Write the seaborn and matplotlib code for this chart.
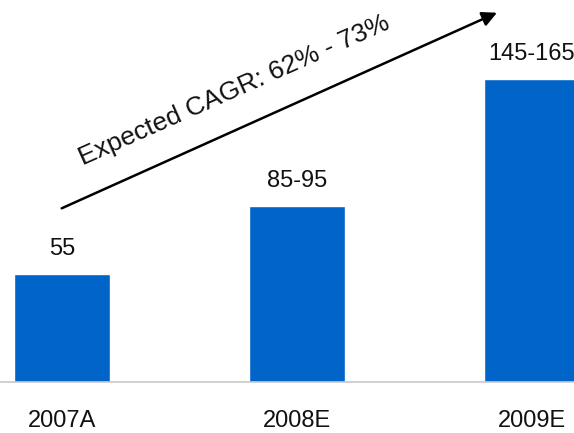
import matplotlib
matplotlib.use("Agg")
import matplotlib.pyplot as plt
import seaborn as sns
import pandas as pd

# Revenue outlook by year (ranges drawn at their midpoints)
years = ["2007A", "2008E", "2009E"]
values = [55, 90, 155]
value_labels = ["55", "85-95", "145-165"]
cagr_text = "Expected CAGR: 62% - 73%"

df = pd.DataFrame({"year": years, "value": values})

sns.set_theme(style="white")
plt.rcParams["font.family"] = ["Liberation Sans", "DejaVu Sans"]

W, H = 574, 433
fig = plt.figure(figsize=(W / 100, H / 100), dpi=100)
ax = fig.add_axes([0, 51 / H, 1, 331 / H])

sns.barplot(data=df, x="year", y="value", color="#0064C8", width=0.41,
            saturation=1, ax=ax)

ax.set_xlim(-62 / 235, (W - 62) / 235)
ax.set_ylim(0, 331 / 1.957)

for s in ["top", "right", "left"]:
    ax.spines[s].set_visible(False)
ax.spines["bottom"].set_color("#c8c8c8")
ax.spines["bottom"].set_linewidth(1.2)

ax.set_xlabel("")
ax.set_ylabel("")
ax.set_yticks([])
ax.tick_params(axis="x", length=0, pad=20, labelsize=17, labelcolor="#111111")

ax.bar_label(ax.containers[0], labels=value_labels, padding=10,
             fontsize=17, color="#111111")

# Growth arrow with rotated annotation
ax.annotate("", xy=(497, H - 12.7), xytext=(61.7, H - 208.3),
            xycoords="figure pixels", textcoords="figure pixels",
            arrowprops=dict(arrowstyle="-|>", color="black", lw=1.8,
                            mutation_scale=22, shrinkA=0, shrinkB=0))
fig.text(234 / W, 1 - 90 / H, cagr_text, rotation=24, rotation_mode="anchor",
         ha="center", va="center", fontsize=19, color="#111111")

fig.savefig("out.png", dpi=100)
